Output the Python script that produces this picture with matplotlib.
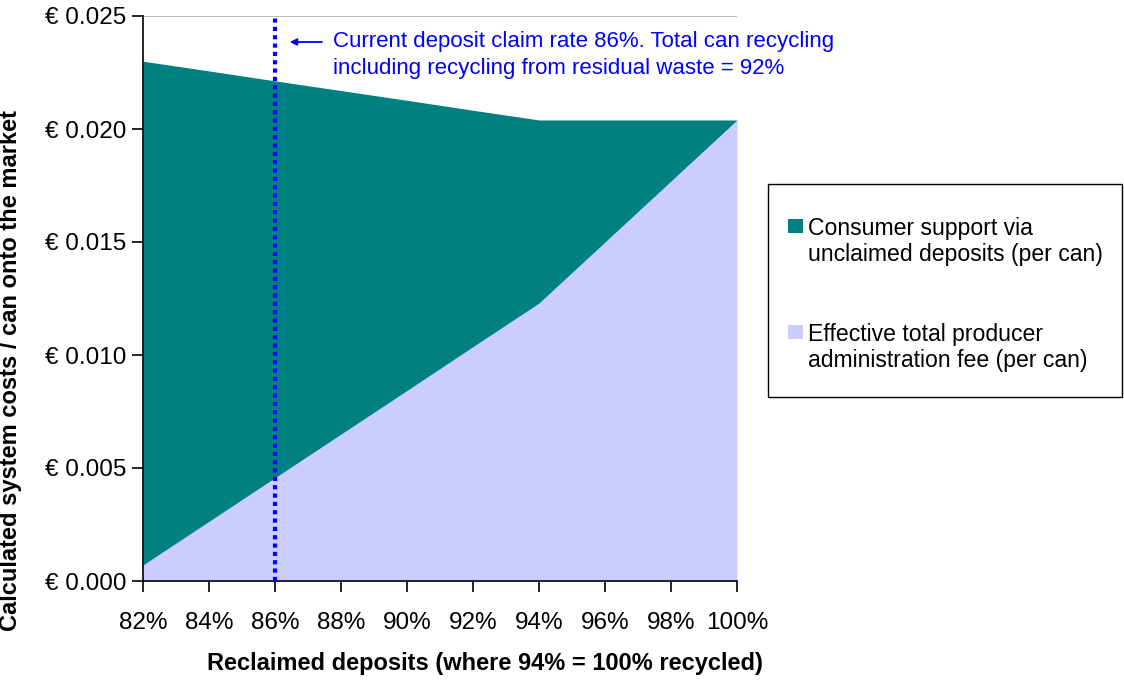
import matplotlib
matplotlib.use('Agg')
import matplotlib.pyplot as plt
from matplotlib.patches import Rectangle
from matplotlib.ticker import FuncFormatter, MultipleLocator

plt.rcParams['font.family'] = ['Liberation Sans', 'DejaVu Sans']

# Reclaimed deposit rate (%) and stacked cost components (EUR per can)
claim_rate = [82, 84, 86, 88, 90, 92, 94, 96, 98, 100]
producer_fee = [0.00071, 0.00264, 0.00457, 0.0065, 0.00843, 0.01037,
                0.0123, 0.0150, 0.0177, 0.0204]
total_cost = [0.0230, 0.02257, 0.02213, 0.0217, 0.02127, 0.02083,
              0.0204, 0.0204, 0.0204, 0.0204]

current_rate = 86
note = ("Current deposit claim rate 86%. Total can recycling\n"
        "including recycling from residual waste = 92%")
series_labels = ['Consumer support via\nunclaimed deposits (per can)',
                 'Effective total producer\nadministration fee (per can)']

TEAL = '#008080'
LAVENDER = '#CCCCFF'
BLUE = '#0000FF'

W, H = 1124, 680
fig = plt.figure(figsize=(W / 100, H / 100), dpi=100)
ax = fig.add_axes([143 / W, 1 - 581 / H, 594 / W, 565 / H])

ax.fill_between(claim_rate, 0, producer_fee, color=LAVENDER, lw=0, zorder=2)
ax.fill_between(claim_rate, producer_fee, total_cost, color=TEAL, lw=0,
                zorder=2)

ax.axvline(current_rate, color=BLUE, lw=3, ls=(0, (1, 1)), zorder=3)

ax.set_xlim(82, 100)
ax.set_ylim(0, 0.025)
ax.xaxis.set_major_locator(MultipleLocator(2))
ax.yaxis.set_major_locator(MultipleLocator(0.005))
ax.xaxis.set_major_formatter(FuncFormatter(lambda v, p: f'{v:.0f}%'))
ax.yaxis.set_major_formatter(FuncFormatter(lambda v, p: f'€ {v:.3f}'))
ax.yaxis.grid(True, color='#C0C0C0', lw=1.5, zorder=0)
ax.set_axisbelow(True)

for s in ('top', 'right'):
    ax.spines[s].set_visible(False)
for s in ('left', 'bottom'):
    ax.spines[s].set_linewidth(1.2)
ax.tick_params(axis='both', labelsize=17.5, length=8, width=1.2)
ax.tick_params(axis='x', pad=14)
ax.tick_params(axis='y', pad=4)

ax.set_xlabel('Reclaimed deposits (where 94% = 100% recycled)',
              fontsize=17, fontweight='bold')
ax.set_ylabel('Calculated system costs / can onto the market',
              fontsize=17, fontweight='bold')
ax.xaxis.set_label_coords(0.576, -0.1257)
ax.yaxis.set_label_coords(-0.2037, 0.372)

# callout next to the dotted marker line
ax.annotate('', xy=(86.45, 0.02385), xytext=(87.42, 0.02385),
            arrowprops=dict(arrowstyle='-|>', color=BLUE, lw=1.3,
                            mutation_scale=10, shrinkA=0, shrinkB=0),
            annotation_clip=False, zorder=4)
ax.text(87.76, 0.02327, note, color=BLUE, fontsize=16, va='center',
        ha='left', linespacing=1.35, zorder=4)

# legend box drawn in figure pixels
fig.patches.append(Rectangle((768 / W, 1 - 397 / H), 354 / W, 213 / H,
                             transform=fig.transFigure, fill=False,
                             edgecolor='black', lw=1.0))
for label, color, top in zip(series_labels, [TEAL, LAVENDER], [219, 325]):
    fig.patches.append(Rectangle((788 / W, 1 - (top + 14) / H), 15 / W,
                                 14 / H, transform=fig.transFigure,
                                 facecolor=color, edgecolor='none'))
    fig.text(808 / W, 1 - (top - 2) / H, label, fontsize=16.6, va='top',
             ha='left', linespacing=1.17)

fig.savefig('out.png', dpi=100)
